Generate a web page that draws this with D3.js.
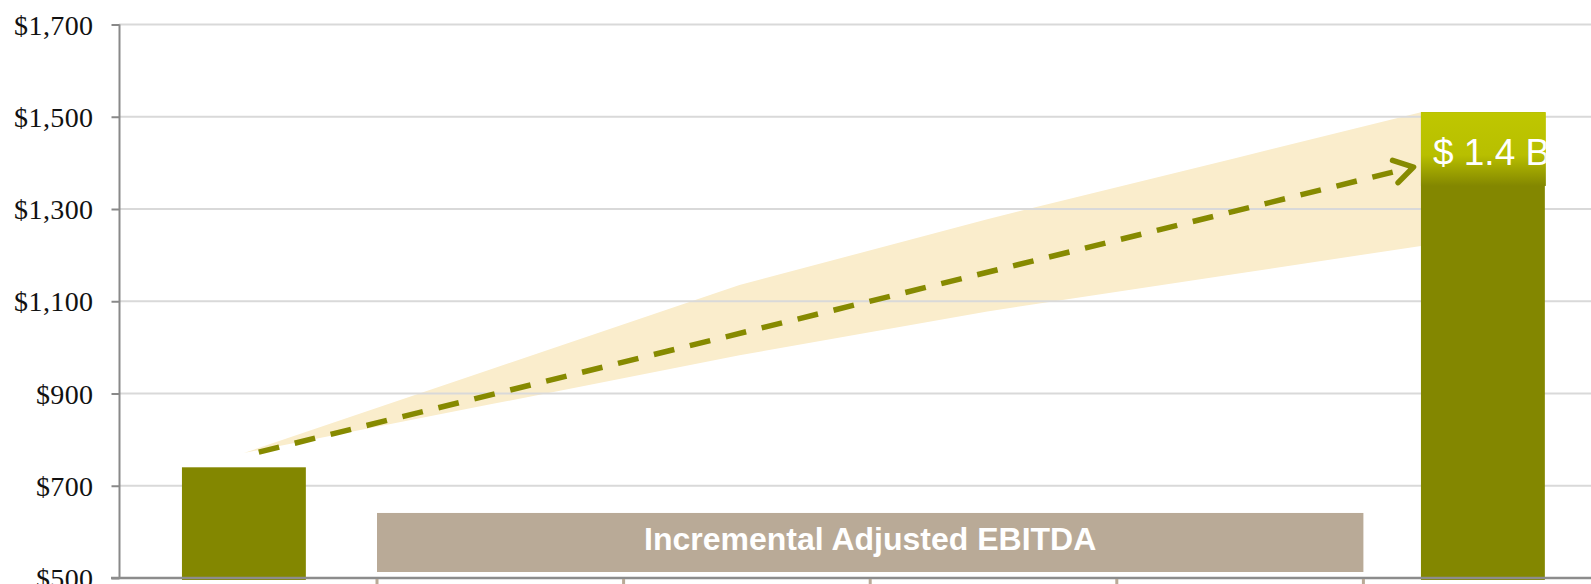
<!DOCTYPE html>
<html>
<head>
<meta charset="utf-8">
<script src="https://cdn.jsdelivr.net/npm/d3@7"></script>
<style>
  body { margin: 0; background: #fff; }
  svg { display: block; }
</style>
</head>
<body>
<div id="chart"></div>
<script>
// categories along the bottom (no labels shown in the original)
const categories = ["Base", "Yr 1", "Yr 2", "Yr 3", "Yr 4", "Target"]
// bar values, $M (null = no bar)
const barValues = [740, null, null, null, null, 1510]
// top highlight on the target bar
const highlightRange = [1350, 1510]
const highlightLabel = "$ 1.4 B"
// range fan: category index, upper and lower edge
const fanIndex = [0, 1, 2, 3, 4, 4.75]
const fanUpper = [771, 953, 1135, 1278, 1410, 1510]
const fanLower = [771, 877, 983, 1078, 1159, 1220]
// dashed trend arrow: [category index, value]
const trendLine = [[0.06, 773], [4.72, 1391]]
// y axis
const yTicks = [500, 700, 900, 1100, 1300, 1500, 1700]
// lower band: spans secondary slots 1..5
const bandSlots = [1, 2, 3, 4, 5]
const bandRange = [513, 641]
const bandLabel = "Incremental Adjusted EBITDA"

const WIDTH = 1591
const HEIGHT = 584
const barColor = '#838700'
const dashColor = '#868a00'
const fanColor = '#faedcc'
const tanColor = '#b9aa97'

const svg = d3.select('#chart').append('svg')
    .attr('width', WIDTH)
    .attr('height', HEIGHT)

const yscale = d3.scaleLinear()
    .domain([500, 1700])
    .range([578, 24.5])

const xscale = d3.scaleBand()
    .domain(categories)
    .range([120, 120 + 6 * 247.8])
    .paddingInner(0.5)
    .paddingOuter(0.25)

// category index -> bar centre
const xc = d3.scaleLinear()
    .domain([0, 5])
    .range([xscale(categories[0]) + xscale.bandwidth() / 2, xscale(categories[5]) + xscale.bandwidth() / 2])

// secondary slots for the tan ticks / band
const xslot = d3.scaleLinear()
    .domain([0, 6])
    .range([130.4, 130.4 + 6 * 246.6])

const defs = svg.append('defs')
const grad = defs.append('linearGradient')
    .attr('id', 'topGrad')
    .attr('x1', 0).attr('y1', 0).attr('x2', 0).attr('y2', 1)
grad.append('stop').attr('offset', '0%').attr('stop-color', '#bfc700')
grad.append('stop').attr('offset', '58%').attr('stop-color', '#b8bf00')
grad.append('stop').attr('offset', '100%').attr('stop-color', barColor)

/* FAN */
const fanArea = d3.area()
    .x((d, i) => xc(fanIndex[i]))
    .y0((d, i) => yscale(fanLower[i]))
    .y1(d => yscale(d))
svg.append('path')
    .datum(fanUpper)
    .attr('d', fanArea)
    .style('fill', fanColor)

/* GRID */
svg.append('g')
    .selectAll('line')
    .data(yTicks.slice(1))
    .join('line')
    .attr('x1', 119)
    .attr('x2', WIDTH)
    .attr('y1', d => yscale(d))
    .attr('y2', d => yscale(d))
    .style('stroke', '#d9d9d9')
    .style('stroke-width', 2)

/* Y AXIS */
const y_axis = d3.axisLeft(yscale)
    .tickValues(yTicks)
    .tickSize(8)
    .tickFormat(d => '$' + d3.format(',')(d))
const yg = svg.append('g')
    .attr('transform', 'translate(119.5,0)')
    .call(y_axis)
yg.select('.domain').remove()
yg.selectAll('line').style('stroke', '#898989').style('stroke-width', 2)
yg.selectAll('text')
    .attr('x', -26)
    .attr('dy', '0.34em')
    .style('font-family', '"Liberation Serif", "DejaVu Serif", serif')
    .style('font-size', '28px')
    .style('letter-spacing', '0.4px')
    .style('fill', '#111')
svg.append('line')
    .attr('x1', 119.5).attr('x2', 119.5)
    .attr('y1', yscale(1700)).attr('y2', yscale(500))
    .style('stroke', '#898989')
    .style('stroke-width', 2)

/* BARS */
const bars = categories.map((c, i) => ({ cat: c, value: barValues[i] })).filter(d => d.value != null)
svg.append('g')
    .selectAll('rect')
    .data(bars)
    .join('rect')
    .attr('x', d => xscale(d.cat))
    .attr('y', d => yscale(d.value))
    .attr('width', xscale.bandwidth())
    .attr('height', d => yscale(500) - yscale(d.value) + 2)
    .style('fill', barColor)

// highlight on target bar
const lastCat = categories[categories.length - 1]
const hx = xscale(lastCat)
const hy = yscale(highlightRange[1])
const hh = yscale(highlightRange[0]) - hy
defs.append('clipPath').attr('id', 'hlClip')
    .append('rect')
    .attr('x', hx).attr('y', hy)
    .attr('width', xscale.bandwidth() + 1).attr('height', hh)
svg.append('rect')
    .attr('x', hx)
    .attr('y', hy)
    .attr('width', xscale.bandwidth() + 1)
    .attr('height', hh)
    .style('fill', 'url(#topGrad)')
svg.append('text')
    .attr('clip-path', 'url(#hlClip)')
    .attr('x', hx + 12)
    .attr('y', hy + 53)
    .style('font-family', '"Liberation Sans", Arial, sans-serif')
    .style('font-size', '37px')
    .style('fill', '#fff')
    .text(highlightLabel)

/* X AXIS */
svg.append('line')
    .attr('x1', 111).attr('x2', WIDTH)
    .attr('y1', yscale(500)).attr('y2', yscale(500))
    .style('stroke', '#8c8c8c')
    .style('stroke-width', 2.5)

svg.append('g')
    .selectAll('line')
    .data(bandSlots)
    .join('line')
    .attr('x1', d => xslot(d)).attr('x2', d => xslot(d))
    .attr('y1', yscale(500) + 1).attr('y2', HEIGHT)
    .style('stroke', tanColor)
    .style('stroke-width', 3)

/* EBITDA BAND */
svg.append('rect')
    .attr('x', xslot(bandSlots[0]))
    .attr('y', yscale(bandRange[1]))
    .attr('width', xslot(bandSlots[bandSlots.length - 1]) - xslot(bandSlots[0]))
    .attr('height', yscale(bandRange[0]) - yscale(bandRange[1]))
    .style('fill', tanColor)
svg.append('text')
    .attr('x', (xslot(bandSlots[0]) + xslot(bandSlots[bandSlots.length - 1])) / 2)
    .attr('y', yscale(bandRange[0]) - 22.5)
    .attr('text-anchor', 'middle')
    .style('font-family', '"Liberation Sans", Arial, sans-serif')
    .style('font-weight', 'bold')
    .style('font-size', '32px')
    .style('fill', '#fff')
    .text(bandLabel)

/* TREND ARROW */
const p0 = [xc(trendLine[0][0]), yscale(trendLine[0][1])]
const p1 = [xc(trendLine[1][0]), yscale(trendLine[1][1])]
svg.append('line')
    .attr('x1', p0[0]).attr('y1', p0[1])
    .attr('x2', p1[0] - 4).attr('y2', p1[1] + 1)
    .style('stroke', dashColor)
    .style('stroke-width', 5.5)
    .style('stroke-dasharray', '21,16')
const ang = Math.atan2(p1[1] - p0[1], p1[0] - p0[0])
const headLen = 22
const spread = 0.55
const head = d3.path()
head.moveTo(p1[0] - headLen * Math.cos(ang - spread), p1[1] - headLen * Math.sin(ang - spread))
head.lineTo(p1[0], p1[1])
head.lineTo(p1[0] - headLen * Math.cos(ang + spread), p1[1] - headLen * Math.sin(ang + spread))
svg.append('path')
    .attr('d', head.toString())
    .style('fill', 'none')
    .style('stroke', dashColor)
    .style('stroke-width', 5.5)
    .style('stroke-linecap', 'round')
    .style('stroke-linejoin', 'round')
</script>
</body>
</html>
